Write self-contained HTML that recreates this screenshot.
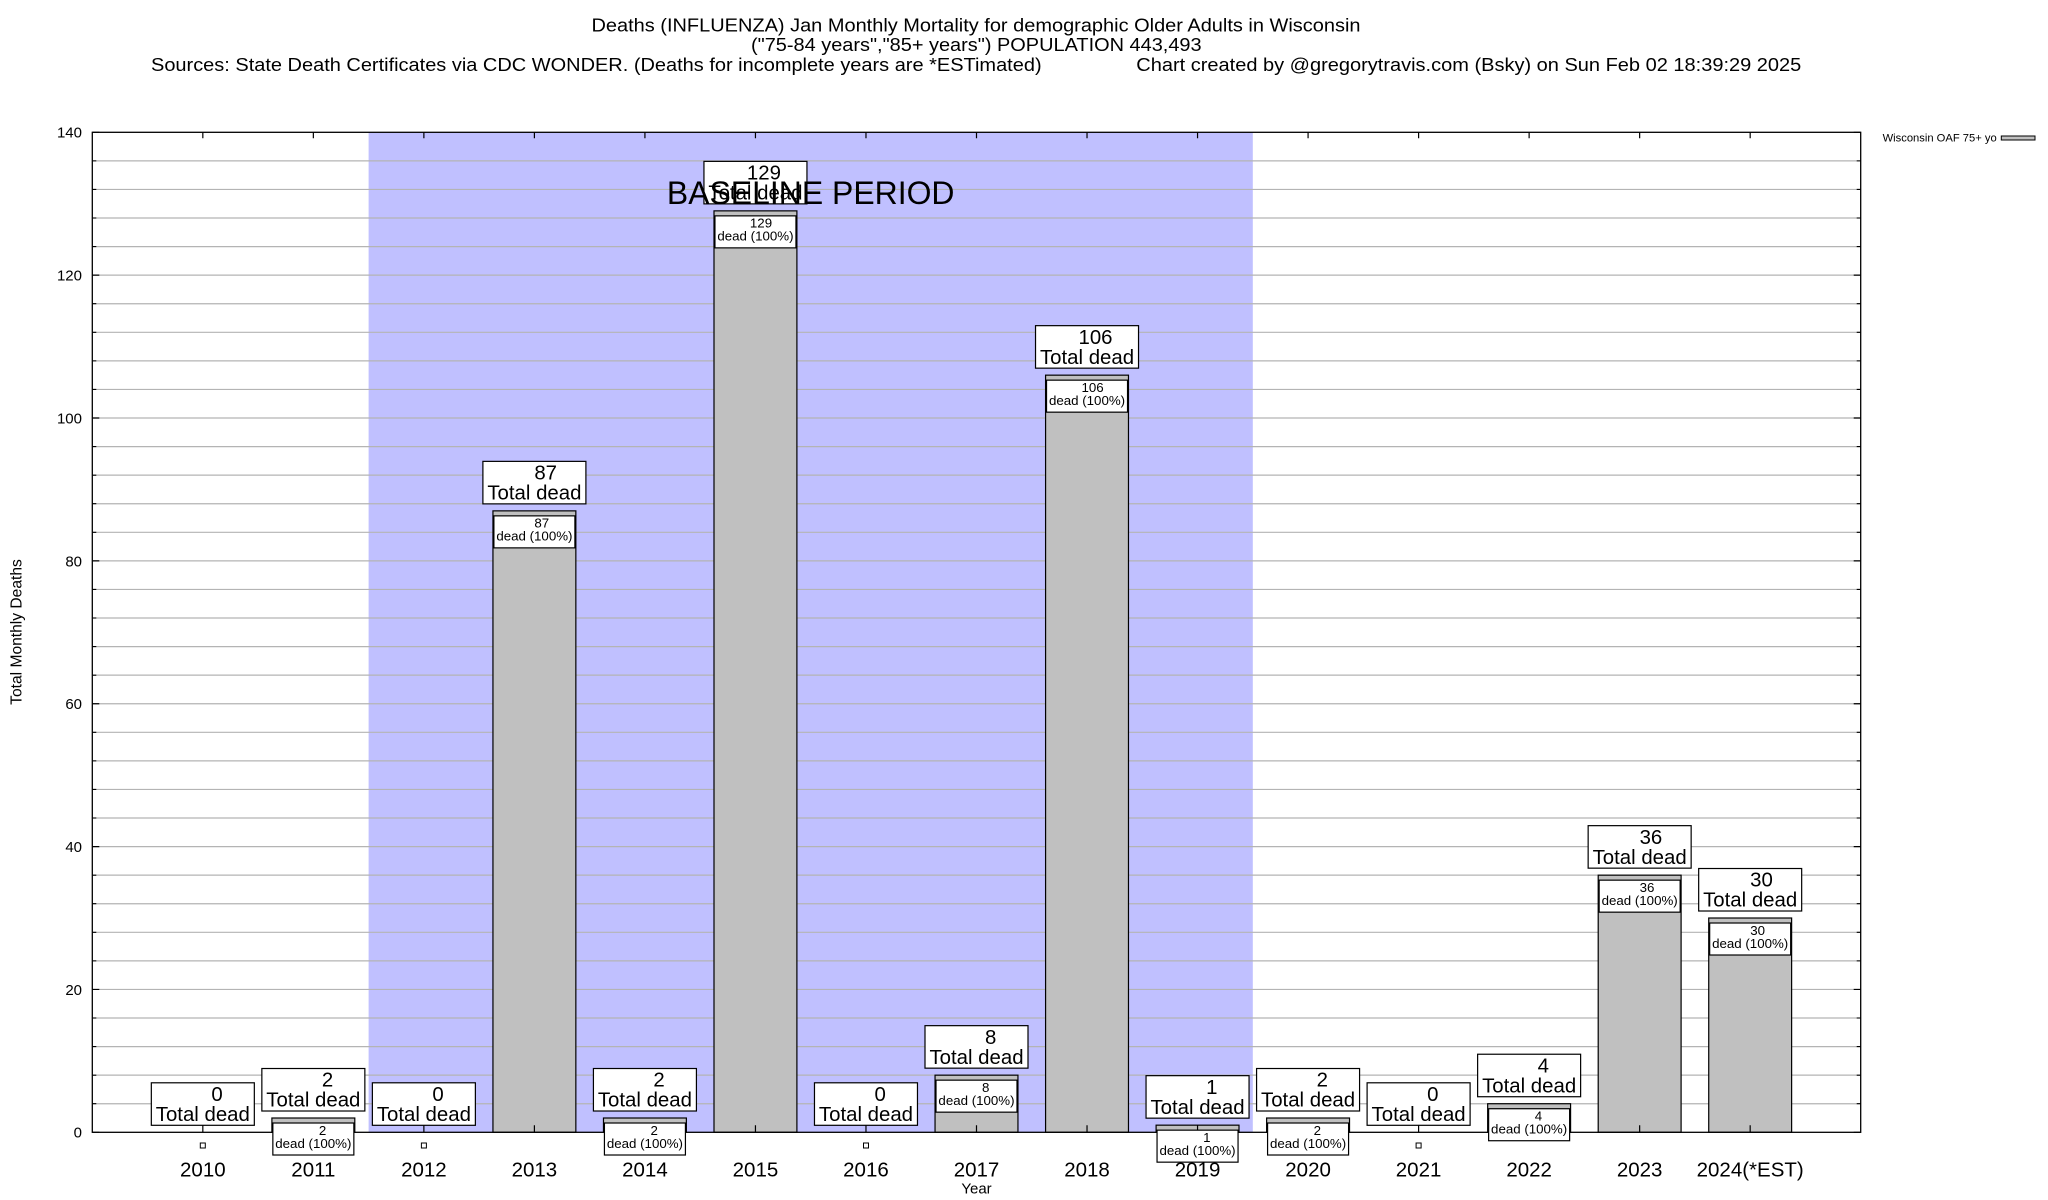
<!DOCTYPE html>
<html>
<head>
<meta charset="utf-8">
<style>
html,body{margin:0;padding:0;background:#fff;}
svg{display:block;}
text{font-family:"Liberation Sans",Arial,Helvetica,sans-serif;fill:#000;}
.t{font-size:18.5px;}
.yl{font-size:15px;text-anchor:end;}
.xl{font-size:20.5px;text-anchor:middle;}
.ob{fill:#fff;stroke:#000;stroke-width:1.2;}
.ib{fill:#fff;stroke:#000;stroke-width:1.2;}
.on{font-size:20.4px;text-anchor:middle;}
.ot{font-size:20.4px;text-anchor:middle;}
.in{font-size:13.3px;text-anchor:middle;}
.bar{fill:#c0c0c0;stroke:#000;stroke-width:1.2;}
</style>
</head>
<body>
<svg width="2048" height="1200" viewBox="0 0 2048 1200" xmlns="http://www.w3.org/2000/svg">
<rect x="0" y="0" width="2048" height="1200" fill="#fff"/>

<!-- Title -->
<text class="t" x="591.5" y="31.7" textLength="769" lengthAdjust="spacingAndGlyphs">Deaths (INFLUENZA) Jan Monthly Mortality for demographic Older Adults in Wisconsin</text>
<text class="t" x="751" y="51.2" textLength="450.6" lengthAdjust="spacingAndGlyphs">("75-84 years","85+ years") POPULATION 443,493</text>
<text class="t" x="151" y="71.2" textLength="890.6" lengthAdjust="spacingAndGlyphs">Sources: State Death Certificates via CDC WONDER. (Deaths for incomplete years are *ESTimated)</text>
<text class="t" x="1136.3" y="71.2" textLength="665" lengthAdjust="spacingAndGlyphs">Chart created by @gregorytravis.com (Bsky) on Sun Feb 02 18:39:29 2025</text>

<!-- Baseline shading -->
<rect x="368.6" y="132.3" width="884.2" height="1000" fill="#c0c0ff"/>

<!-- Gridlines -->
<path fill="none" stroke="#b4b4b4" stroke-width="1.2" d="M92.3 1103.73H1860.7M92.3 1075.16H1860.7M92.3 1046.59H1860.7M92.3 1018.01H1860.7M92.3 989.44H1860.7M92.3 960.87H1860.7M92.3 932.30H1860.7M92.3 903.73H1860.7M92.3 875.16H1860.7M92.3 846.59H1860.7M92.3 818.01H1860.7M92.3 789.44H1860.7M92.3 760.87H1860.7M92.3 732.30H1860.7M92.3 703.73H1860.7M92.3 675.16H1860.7M92.3 646.59H1860.7M92.3 618.01H1860.7M92.3 589.44H1860.7M92.3 560.87H1860.7M92.3 532.30H1860.7M92.3 503.73H1860.7M92.3 475.16H1860.7M92.3 446.59H1860.7M92.3 418.01H1860.7M92.3 389.44H1860.7M92.3 360.87H1860.7M92.3 332.30H1860.7M92.3 303.73H1860.7M92.3 275.16H1860.7M92.3 246.59H1860.7M92.3 218.01H1860.7M92.3 189.44H1860.7M92.3 160.87H1860.7"/>

<!-- Bars -->
<rect class="bar" x="271.9" y="1118.01" width="82.9" height="14.29"/>
<rect class="bar" x="492.95" y="510.87" width="82.9" height="621.43"/>
<rect class="bar" x="603.475" y="1118.01" width="82.9" height="14.29"/>
<rect class="bar" x="714.0" y="210.87" width="82.9" height="921.43"/>
<rect class="bar" x="935.05" y="1075.16" width="82.9" height="57.14"/>
<rect class="bar" x="1045.575" y="375.16" width="82.9" height="757.14"/>
<rect class="bar" x="1156.1" y="1125.16" width="82.9" height="7.14"/>
<rect class="bar" x="1266.625" y="1118.01" width="82.9" height="14.29"/>
<rect class="bar" x="1487.675" y="1103.73" width="82.9" height="28.57"/>
<rect class="bar" x="1598.2" y="875.16" width="82.9" height="257.14"/>
<rect class="bar" x="1708.725" y="918.01" width="82.9" height="214.29"/>

<!-- Border -->
<rect x="92.3" y="132.3" width="1768.4" height="1000" fill="none" stroke="#000" stroke-width="1.3"/>

<!-- Y ticks -->
<path fill="none" stroke="#000" stroke-width="1.2" d="M92.3 1132.3h7M92.3 989.44h7M92.3 846.59h7M92.3 703.73h7M92.3 560.87h7M92.3 418.01h7M92.3 275.16h7M92.3 132.3h7M1860.7 1132.3h-7M1860.7 989.44h-7M1860.7 846.59h-7M1860.7 703.73h-7M1860.7 560.87h-7M1860.7 418.01h-7M1860.7 275.16h-7M1860.7 132.3h-7"/>
<path fill="none" stroke="#000" stroke-width="1.1" d="M92.3 1103.73h4M92.3 1075.16h4M92.3 1046.59h4M92.3 1018.01h4M92.3 960.87h4M92.3 932.30h4M92.3 903.73h4M92.3 875.16h4M92.3 818.01h4M92.3 789.44h4M92.3 760.87h4M92.3 732.30h4M92.3 675.16h4M92.3 646.59h4M92.3 618.01h4M92.3 589.44h4M92.3 532.30h4M92.3 503.73h4M92.3 475.16h4M92.3 446.59h4M92.3 389.44h4M92.3 360.87h4M92.3 332.30h4M92.3 303.73h4M92.3 246.59h4M92.3 218.01h4M92.3 189.44h4M92.3 160.87h4M1860.7 1103.73h-4M1860.7 1075.16h-4M1860.7 1046.59h-4M1860.7 1018.01h-4M1860.7 960.87h-4M1860.7 932.30h-4M1860.7 903.73h-4M1860.7 875.16h-4M1860.7 818.01h-4M1860.7 789.44h-4M1860.7 760.87h-4M1860.7 732.30h-4M1860.7 675.16h-4M1860.7 646.59h-4M1860.7 618.01h-4M1860.7 589.44h-4M1860.7 532.30h-4M1860.7 503.73h-4M1860.7 475.16h-4M1860.7 446.59h-4M1860.7 389.44h-4M1860.7 360.87h-4M1860.7 332.30h-4M1860.7 303.73h-4M1860.7 246.59h-4M1860.7 218.01h-4M1860.7 189.44h-4M1860.7 160.87h-4"/>

<!-- X ticks -->
<path fill="none" stroke="#000" stroke-width="1.2" d="M202.825 1132.3v-7M313.35 1132.3v-7M423.875 1132.3v-7M534.4 1132.3v-7M644.925 1132.3v-7M755.45 1132.3v-7M865.975 1132.3v-7M976.5 1132.3v-7M1087.025 1132.3v-7M1197.55 1132.3v-7M1308.075 1132.3v-7M1418.6 1132.3v-7M1529.125 1132.3v-7M1639.65 1132.3v-7M1750.175 1132.3v-7M202.825 132.3v6M313.35 132.3v6M423.875 132.3v6M534.4 132.3v6M644.925 132.3v6M755.45 132.3v6M865.975 132.3v6M976.5 132.3v6M1087.025 132.3v6M1197.55 132.3v6M1308.075 132.3v6M1418.6 132.3v6M1529.125 132.3v6M1639.65 132.3v6M1750.175 132.3v6"/>

<!-- Labels: 2010 -->
<rect class="ob" x="151.325" y="1082.8" width="103" height="42.5"/>
<text class="on" x="217.0" y="1101.0">0</text>
<text class="ot" x="202.825" y="1121.0">Total dead</text>
<rect x="200.3" y="1143" width="5" height="5" fill="#fff" stroke="#000" stroke-width="1"/>

<!-- 2011 -->
<rect class="ob" x="261.85" y="1068.51" width="103" height="42.5"/>
<text class="on" x="327.55" y="1086.71">2</text>
<text class="ot" x="313.35" y="1106.71">Total dead</text>
<rect class="ib" x="272.85" y="1123.01" width="81" height="32"/>
<text class="in" x="322.6" y="1134.81">2</text>
<text class="in" x="313.35" y="1147.81">dead (100%)</text>

<!-- 2012 -->
<rect class="ob" x="372.375" y="1082.8" width="103" height="42.5"/>
<text class="on" x="438.05" y="1101.0">0</text>
<text class="ot" x="423.875" y="1121.0">Total dead</text>
<rect x="421.4" y="1143" width="5" height="5" fill="#fff" stroke="#000" stroke-width="1"/>

<!-- 2013 -->
<rect class="ob" x="482.9" y="461.37" width="103" height="42.5"/>
<text class="on" x="545.7" y="479.57">87</text>
<text class="ot" x="534.4" y="499.57">Total dead</text>
<rect class="ib" x="493.9" y="515.87" width="81" height="32"/>
<text class="in" x="541.8" y="527.67">87</text>
<text class="in" x="534.4" y="540.67">dead (100%)</text>

<!-- 2014 -->
<rect class="ob" x="593.425" y="1068.51" width="103" height="42.5"/>
<text class="on" x="659.1" y="1086.71">2</text>
<text class="ot" x="644.925" y="1106.71">Total dead</text>
<rect class="ib" x="604.425" y="1123.01" width="81" height="32"/>
<text class="in" x="654.2" y="1134.81">2</text>
<text class="in" x="644.925" y="1147.81">dead (100%)</text>

<!-- 2015 -->
<rect class="ob" x="703.95" y="161.37" width="103" height="42.5"/>
<text class="on" x="763.95" y="179.57">129</text>
<text class="ot" x="755.45" y="199.57">Total dead</text>
<rect class="ib" x="714.95" y="215.87" width="81" height="32"/>
<text class="in" x="761.0" y="227.67">129</text>
<text class="in" x="755.45" y="240.67">dead (100%)</text>

<!-- 2016 -->
<rect class="ob" x="814.475" y="1082.8" width="103" height="42.5"/>
<text class="on" x="880.15" y="1101.0">0</text>
<text class="ot" x="865.975" y="1121.0">Total dead</text>
<rect x="863.5" y="1143" width="5" height="5" fill="#fff" stroke="#000" stroke-width="1"/>

<!-- 2017 -->
<rect class="ob" x="925" y="1025.66" width="103" height="42.5"/>
<text class="on" x="990.7" y="1043.86">8</text>
<text class="ot" x="976.5" y="1063.86">Total dead</text>
<rect class="ib" x="936" y="1080.16" width="81" height="32"/>
<text class="in" x="985.75" y="1091.96">8</text>
<text class="in" x="976.5" y="1104.96">dead (100%)</text>

<!-- 2018 -->
<rect class="ob" x="1035.525" y="325.66" width="103" height="42.5"/>
<text class="on" x="1095.5" y="343.86">106</text>
<text class="ot" x="1087.025" y="363.86">Total dead</text>
<rect class="ib" x="1046.525" y="380.16" width="81" height="32"/>
<text class="in" x="1092.6" y="391.96">106</text>
<text class="in" x="1087.025" y="404.96">dead (100%)</text>

<!-- 2019 -->
<rect class="ob" x="1146.05" y="1075.66" width="103" height="42.5"/>
<text class="on" x="1211.75" y="1093.86">1</text>
<text class="ot" x="1197.55" y="1113.86">Total dead</text>
<rect class="ib" x="1157.05" y="1130.16" width="81" height="32"/>
<text class="in" x="1206.8" y="1141.96">1</text>
<text class="in" x="1197.55" y="1154.96">dead (100%)</text>

<!-- 2020 -->
<rect class="ob" x="1256.575" y="1068.51" width="103" height="42.5"/>
<text class="on" x="1322.3" y="1086.71">2</text>
<text class="ot" x="1308.075" y="1106.71">Total dead</text>
<rect class="ib" x="1267.575" y="1123.01" width="81" height="32"/>
<text class="in" x="1317.3" y="1134.81">2</text>
<text class="in" x="1308.075" y="1147.81">dead (100%)</text>

<!-- 2021 -->
<rect class="ob" x="1367.1" y="1082.8" width="103" height="42.5"/>
<text class="on" x="1432.8" y="1101.0">0</text>
<text class="ot" x="1418.6" y="1121.0">Total dead</text>
<rect x="1416.1" y="1143" width="5" height="5" fill="#fff" stroke="#000" stroke-width="1"/>

<!-- 2022 -->
<rect class="ob" x="1477.625" y="1054.23" width="103" height="42.5"/>
<text class="on" x="1543.3" y="1072.43">4</text>
<text class="ot" x="1529.125" y="1092.43">Total dead</text>
<rect class="ib" x="1488.625" y="1108.73" width="81" height="32"/>
<text class="in" x="1538.4" y="1120.53">4</text>
<text class="in" x="1529.125" y="1133.53">dead (100%)</text>

<!-- 2023 -->
<rect class="ob" x="1588.15" y="825.66" width="103" height="42.5"/>
<text class="on" x="1650.95" y="843.86">36</text>
<text class="ot" x="1639.65" y="863.86">Total dead</text>
<rect class="ib" x="1599.15" y="880.16" width="81" height="32"/>
<text class="in" x="1647.05" y="891.96">36</text>
<text class="in" x="1639.65" y="904.96">dead (100%)</text>

<!-- 2024 -->
<rect class="ob" x="1698.675" y="868.51" width="103" height="42.5"/>
<text class="on" x="1761.5" y="886.71">30</text>
<text class="ot" x="1750.175" y="906.71">Total dead</text>
<rect class="ib" x="1709.675" y="923.01" width="81" height="32"/>
<text class="in" x="1757.6" y="934.81">30</text>
<text class="in" x="1750.175" y="947.81">dead (100%)</text>

<!-- Baseline period label -->
<text x="810.7" y="204" font-size="32" text-anchor="middle" textLength="287.6" lengthAdjust="spacingAndGlyphs">BASELINE PERIOD</text>

<!-- Y tick labels -->
<text class="yl" x="82" y="1137.7">0</text>
<text class="yl" x="82" y="994.84">20</text>
<text class="yl" x="82" y="851.99">40</text>
<text class="yl" x="82" y="709.13">60</text>
<text class="yl" x="82" y="566.27">80</text>
<text class="yl" x="82" y="423.41">100</text>
<text class="yl" x="82" y="280.56">120</text>
<text class="yl" x="82" y="137.7">140</text>

<!-- X tick labels -->
<text class="xl" x="202.825" y="1176.7">2010</text>
<text class="xl" x="313.35" y="1176.7">2011</text>
<text class="xl" x="423.875" y="1176.7">2012</text>
<text class="xl" x="534.4" y="1176.7">2013</text>
<text class="xl" x="644.925" y="1176.7">2014</text>
<text class="xl" x="755.45" y="1176.7">2015</text>
<text class="xl" x="865.975" y="1176.7">2016</text>
<text class="xl" x="976.5" y="1176.7">2017</text>
<text class="xl" x="1087.025" y="1176.7">2018</text>
<text class="xl" x="1197.55" y="1176.7">2019</text>
<text class="xl" x="1308.075" y="1176.7">2020</text>
<text class="xl" x="1418.6" y="1176.7">2021</text>
<text class="xl" x="1529.125" y="1176.7">2022</text>
<text class="xl" x="1639.65" y="1176.7">2023</text>
<text class="xl" x="1750.175" y="1176.7">2024(*EST)</text>

<!-- Axis titles -->
<text x="976.5" y="1193.3" font-size="15" text-anchor="middle">Year</text>
<text x="0" y="0" font-size="15.6" text-anchor="middle" transform="translate(21.5,632) rotate(-90)">Total Monthly Deaths</text>

<!-- Legend -->
<text x="1996.7" y="141.5" font-size="11.2" text-anchor="end">Wisconsin OAF 75+ yo</text>
<rect x="2001.3" y="136" width="33.7" height="4" fill="#c0c0c0" stroke="#000" stroke-width="1"/>
</svg>
</body>
</html>
